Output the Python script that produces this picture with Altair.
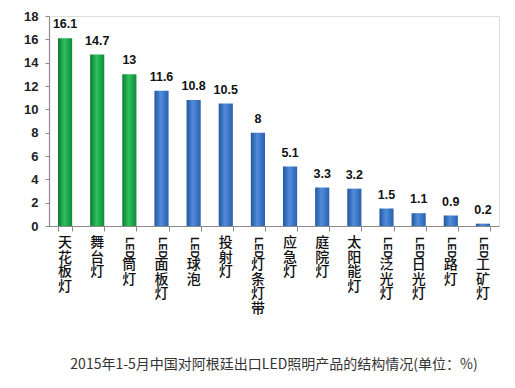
import altair as alt
import pandas as pd

categories = ["天花板灯", "舞台灯", "LED筒灯", "LED面板灯", "LED球泡", "投射灯", "LED灯条灯带",
              "应急灯", "庭院灯", "太阳能灯", "LED泛光灯", "LED日光灯", "LED路灯", "LED工矿灯"]
values = [16.1, 14.7, 13, 11.6, 10.8, 10.5, 8, 5.1, 3.3, 3.2, 1.5, 1.1, 0.9, 0.2]
value_labels = ["16.1", "14.7", "13", "11.6", "10.8", "10.5", "8", "5.1", "3.3", "3.2", "1.5", "1.1", "0.9", "0.2"]
groups = ["green"] * 3 + ["blue"] * 11
y_ticks = [0, 2, 4, 6, 8, 10, 12, 14, 16, 18]
title_text = "2015年1-5月中国对阿根廷出口LED照明产品的结构情况(单位：%)"

prefixes = ["LED" if c.startswith("LED") else "" for c in categories]
rests = ["\n".join(list(c[3:] if c.startswith("LED") else c)) for c in categories]

df = pd.DataFrame({
    "category": categories,
    "value": values,
    "label": value_labels,
    "group": groups,
    "prefix": prefixes,
    "rest": rests,
})

H = 210
W = 450

x_enc = alt.X(
    "category:N", sort=categories,
    scale=alt.Scale(paddingInner=0.56, paddingOuter=0.28),
    axis=alt.Axis(labels=False, title=None, tickBand="extent", domainColor="#8a8a8a",
                  tickColor="#8a8a8a", tickSize=5, domainWidth=1.2),
)
y_enc = alt.Y(
    "value:Q", scale=alt.Scale(domain=[0, 18]),
    axis=alt.Axis(values=y_ticks, grid=False, title=None, labelFont="Liberation Sans",
                  labelFontWeight="bold", labelFontSize=13, labelColor="#222222",
                  tickSize=4, tickColor="#8a8a8a", domainColor="#8a8a8a", labelPadding=7,
                  domainWidth=1.2),
)

base = alt.Chart(df)

green_grad = alt.Gradient(
    gradient="linear", x1=0, x2=1, y1=0, y2=0,
    stops=[alt.GradientStop(color="#0b7a33", offset=0),
           alt.GradientStop(color="#2fbf5c", offset=0.45),
           alt.GradientStop(color="#0e8b3b", offset=1)],
)
blue_grad = alt.Gradient(
    gradient="linear", x1=0, x2=1, y1=0, y2=0,
    stops=[alt.GradientStop(color="#24549e", offset=0),
           alt.GradientStop(color="#4f8ddb", offset=0.45),
           alt.GradientStop(color="#2a5fae", offset=1)],
)

bars_green = base.transform_filter(alt.datum.group == "green").mark_bar(color=green_grad).encode(x=x_enc, y=y_enc)
bars_blue = base.transform_filter(alt.datum.group == "blue").mark_bar(color=blue_grad).encode(x=x_enc, y=y_enc)

value_text = base.mark_text(
    dy=-10, baseline="alphabetic", font="Liberation Sans", fontWeight="bold",
    fontSize=12.5, color="#111111",
).encode(x=x_enc, y=y_enc, text="label:N")

prefix_text = base.transform_filter(alt.datum.prefix == "LED").mark_text(
    angle=90, align="left", baseline="middle", font="Liberation Sans", fontWeight="bold",
    fontSize=10.5, color="#111111",
).encode(x=x_enc, y=alt.value(H + 11), text="prefix:N")

rest_led = base.transform_filter(alt.datum.prefix == "LED").mark_text(
    align="center", baseline="top", lineBreak="\n", font="Noto Sans CJK SC", fontWeight=500,
    fontSize=14, lineHeight=14.6, color="#111111",
).encode(x=x_enc, y=alt.value(H + 32), text="rest:N")

rest_plain = base.transform_filter(alt.datum.prefix == "").mark_text(
    align="center", baseline="top", lineBreak="\n", font="Noto Sans CJK SC", fontWeight=500,
    fontSize=14, lineHeight=14.6, color="#111111",
).encode(x=x_enc, y=alt.value(H + 10), text="rest:N")

chart = alt.layer(bars_green, bars_blue, value_text, prefix_text, rest_led, rest_plain).properties(
    width=W, height=H,
    autosize=alt.AutoSizeParams(type="none"),
    padding={"left": 41, "top": 8, "right": 8, "bottom": 150},
    title=alt.TitleParams(
        title_text, orient="bottom", anchor="middle", font="Noto Sans CJK SC",
        fontSize=14, fontWeight="normal", color="#333333", offset=42,
    ),
).configure_view(stroke=None).configure(background="white")

chart.save("out.html", embed_options={"renderer": "svg", "actions": False})
